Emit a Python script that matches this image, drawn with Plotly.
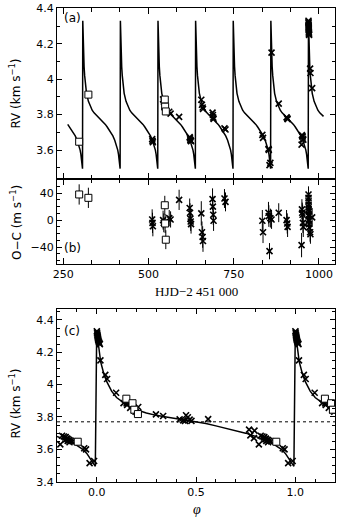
import plotly.graph_objects as go

# ---------------------------------------------------------------------------
# Orbit
# ---------------------------------------------------------------------------
PERIOD = 110.28        # days, spacing of the periastron jumps in panel (a)
T0 = 307.55            # HJD-2451000 of the first jump
GAMMA = 3.77           # km/s, dotted line in panel (c)

# one cycle of the fitted curve, as drawn in panel (c)
model_phase = [0.000, 0.010, 0.020, 0.035, 0.050, 0.075, 0.100, 0.150, 0.200,
               0.250, 0.300, 0.350, 0.400, 0.450, 0.500, 0.550, 0.600, 0.650,
               0.700, 0.750, 0.800, 0.850, 0.900, 0.930, 0.950, 0.970, 0.985,
               0.993]
model_rv = [4.330, 4.220, 4.140, 4.070, 4.020, 3.960, 3.920, 3.875, 3.845,
            3.825, 3.810, 3.800, 3.790, 3.780, 3.770, 3.760, 3.745, 3.730,
            3.715, 3.700, 3.680, 3.655, 3.625, 3.600, 3.575, 3.540, 3.510,
            3.495]

CURVE_START = 263.0
CURVE_END = 1014.0

# squares (first data set)
sq_hjd = [297.0, 324.0, 548.0, 549.0, 551.0]
sq_rv = [3.647, 3.913, 3.885, 3.845, 3.818]
sq_oc = [38, 33, 22, -5, -29]
sq_err = [15, 15, 14, 14, 14]

# crosses (second data set)
cr_hjd = [511.0, 512.0, 513.0, 543.0, 545.0, 561.0, 565.0, 590.0,
          621.0, 622.0, 623.0, 624.0, 625.0,
          655.0, 657.0, 659.0, 660.0,
          688.0, 689.0, 690.0, 691.0, 723.0, 726.0,
          834.0, 836.0, 852.0, 853.0, 855.0, 857.5, 861.0, 882.0,
          905.0, 907.0, 908.0,
          949.0, 950.0, 951.0, 952.0, 953.0, 954.0,
          969.3, 969.4, 969.5, 969.6, 969.7, 969.8, 969.9, 970.0, 970.1,
          970.3, 970.5, 970.7, 971.0, 974.0, 975.0, 980.0]
cr_rv = [3.662, 3.652, 3.644, 3.886, 3.874, 3.816, 3.806, 3.787,
         3.673, 3.666, 3.657, 3.653, 3.650,
         3.884, 3.856, 3.840, 3.832,
         3.811, 3.798, 3.784, 3.776, 3.722, 3.716,
         3.686, 3.669, 3.607, 3.600, 3.515, 3.528, 4.150, 3.862,
         3.785, 3.779, 3.775,
         3.631, 3.684, 3.679, 3.676, 3.664, 3.658,
         4.330, 4.322, 4.316, 4.308, 4.302, 4.295, 4.288, 4.282, 4.276,
         4.268, 4.262, 4.256, 4.250, 4.060, 4.035, 3.950]
cr_oc = [1, -4, -9, 0, -4, 3, 1, 30,
         18, 11, 2, -2, -6,
         10, -18, -25, -31,
         31, 20, 8, -1, 32, 27,
         -1, -18, 11, 6, -46, 3, 1, 11,
         0, -5, -10,
         -37, 16, 11, 8, -4, -10,
         38, 33, 28, 23, 19, 16, 13, 8, 6,
         1, -1, -6, -11, -18, -21, 4]
cr_err = [15, 15, 15, 14, 14, 12, 12, 15,
          14, 14, 14, 14, 14,
          18, 16, 16, 16,
          16, 16, 15, 15, 14, 14,
          16, 16, 16, 16, 12, 14, 14, 14,
          15, 15, 15,
          18, 15, 15, 15, 15, 15,
          12, 12, 12, 12, 12, 12, 12, 12, 12,
          12, 12, 12, 12, 14, 14, 14]

# ---------------------------------------------------------------------------
# Derived series
# ---------------------------------------------------------------------------

curve_t, curve_v = [], []
for k in range(-1, 7):
    for ph, v in zip(model_phase, model_rv):
        t = T0 + (k + ph) * PERIOD
        if CURVE_START <= t <= CURVE_END:
            curve_t.append(t)
            curve_v.append(v)

fold_p, fold_v = [], []
for k in (-1, 0, 1):
    for ph, v in zip(model_phase, model_rv):
        if -0.2 <= k + ph <= 1.2001:
            fold_p.append(k + ph)
            fold_v.append(v)


def fold(hjd, rv):
    px, py = [], []
    for t, v in zip(hjd, rv):
        ph = ((t - T0) / PERIOD) % 1.0
        px.append(ph)
        py.append(v)
        if ph >= 0.8:
            px.append(ph - 1.0)
            py.append(v)
        if ph <= 0.2:
            px.append(ph + 1.0)
            py.append(v)
    return px, py


sq_ph, sq_phv = fold(sq_hjd, sq_rv)
cr_ph, cr_phv = fold(cr_hjd, cr_rv)

# ---------------------------------------------------------------------------
# Styling
# ---------------------------------------------------------------------------
SANS = "DejaVu Sans, Arial, sans-serif"
SERIF = "Liberation Serif, Times New Roman, serif"
TICKFONT = dict(family=SANS, size=11, color="black")

CROSS = dict(symbol="x-thin", size=6, line=dict(color="black", width=1.6))
SQUARE = dict(symbol="square", size=7, color="white",
              line=dict(color="black", width=1))


def _axis(rng, dtick, minor, tick0=0, ticklen=5, minorlen=3, **kw):
    return dict(
        range=rng, tick0=tick0, dtick=dtick,
        ticks="inside", ticklen=ticklen, tickwidth=1, tickcolor="black",
        showline=True, linecolor="black", linewidth=1, mirror="allticks",
        showgrid=False, zeroline=False, tickfont=TICKFONT,
        ticklabeloverflow="allow",
        minor=dict(tick0=tick0, dtick=minor, ticks="inside", ticklen=minorlen,
                   tickwidth=1, tickcolor="black", showgrid=False),
        **kw,
    )


fig = go.Figure()

# panel (a)
fig.add_trace(go.Scatter(x=curve_t, y=curve_v, mode="lines",
                         line=dict(color="black", width=1.5),
                         xaxis="x", yaxis="y"))
fig.add_trace(go.Scatter(x=cr_hjd, y=cr_rv, mode="markers", marker=CROSS,
                         xaxis="x", yaxis="y"))
fig.add_trace(go.Scatter(x=sq_hjd, y=sq_rv, mode="markers", marker=SQUARE,
                         xaxis="x", yaxis="y"))

# panel (b)
fig.add_trace(go.Scatter(x=cr_hjd, y=cr_oc, mode="markers", marker=CROSS,
                         error_y=dict(type="data", array=cr_err, width=0,
                                      thickness=1, color="black"),
                         xaxis="x2", yaxis="y2"))
fig.add_trace(go.Scatter(x=sq_hjd, y=sq_oc, mode="markers", marker=SQUARE,
                         error_y=dict(type="data", array=sq_err, width=0,
                                      thickness=1, color="black"),
                         xaxis="x2", yaxis="y2"))

# panel (c)
fig.add_shape(type="line", xref="x3 domain", yref="y3", x0=0, x1=1,
              y0=GAMMA, y1=GAMMA, line=dict(color="black", width=1, dash="dot"))
fig.add_trace(go.Scatter(x=fold_p, y=fold_v, mode="lines",
                         line=dict(color="black", width=1.5),
                         xaxis="x3", yaxis="y3"))
fig.add_trace(go.Scatter(x=cr_ph, y=cr_phv, mode="markers", marker=CROSS,
                         xaxis="x3", yaxis="y3"))
fig.add_trace(go.Scatter(x=sq_ph, y=sq_phv, mode="markers", marker=SQUARE,
                         xaxis="x3", yaxis="y3"))

HJD_RANGE = [232, 1047]

fig.update_layout(
    width=338, height=518,
    margin=dict(l=57, r=2, t=5, b=36),
    paper_bgcolor="white", plot_bgcolor="white",
    showlegend=False,
    font=dict(family=SANS, size=11, color="black"),
    xaxis=_axis(HJD_RANGE, 250, 250 / 3, tick0=250, ticklen=6, minorlen=4,
                domain=[0, 1], anchor="y", showticklabels=False),
    yaxis=_axis([3.437, 4.402], 0.2, 0.1, domain=[0.6394, 1.0], anchor="x"),
    xaxis2=_axis(HJD_RANGE, 250, 250 / 3, tick0=250, ticklen=6, minorlen=4,
                 domain=[0, 1], anchor="y2"),
    yaxis2=_axis([-64.5, 61], 40, 10, domain=[0.4606, 0.6394], anchor="x2"),
    xaxis3=_axis([-0.2, 1.2], 0.5, 0.1, tickformat=".1f",
                 domain=[0, 1], anchor="y3"),
    yaxis3=_axis([3.398, 4.467], 0.2, 0.05, domain=[0, 0.3648], anchor="x3"),
)

labels = [
    # text, x, y, angle, font family, size
    ("RV (km s<sup>−1</sup>)", -0.150, 0.820, -90, SANS, 12),
    ("O−C (m s<sup>−1</sup>)", -0.150, 0.547, -90, SANS, 12),
    ("RV (km s<sup>−1</sup>)", -0.150, 0.166, -90, SANS, 12),
    ("HJD−2 451 000", 0.502, 0.4025, 0, SERIF, 13),
    ("<i>φ</i>", 0.502, -0.059, 0, SERIF, 14),
]
for text, x, y, ang, fam, size in labels:
    fig.add_annotation(text=text, x=x, y=y, xref="paper", yref="paper",
                       textangle=ang, showarrow=False, xanchor="center",
                       yanchor="middle", font=dict(family=fam, size=size))

for text, y in (("(a)", 0.979), ("(b)", 0.4935), ("(c)", 0.3187)):
    fig.add_annotation(text=text, x=0.018, y=y, xref="paper", yref="paper",
                       showarrow=False, xanchor="left", yanchor="middle",
                       font=dict(family=SANS, size=12))

# the page's default 8px body margin would push the figure off the window
fig.write_html("out.html",
               config={"displayModeBar": False},
               post_script="document.body.style.margin = '0';")
